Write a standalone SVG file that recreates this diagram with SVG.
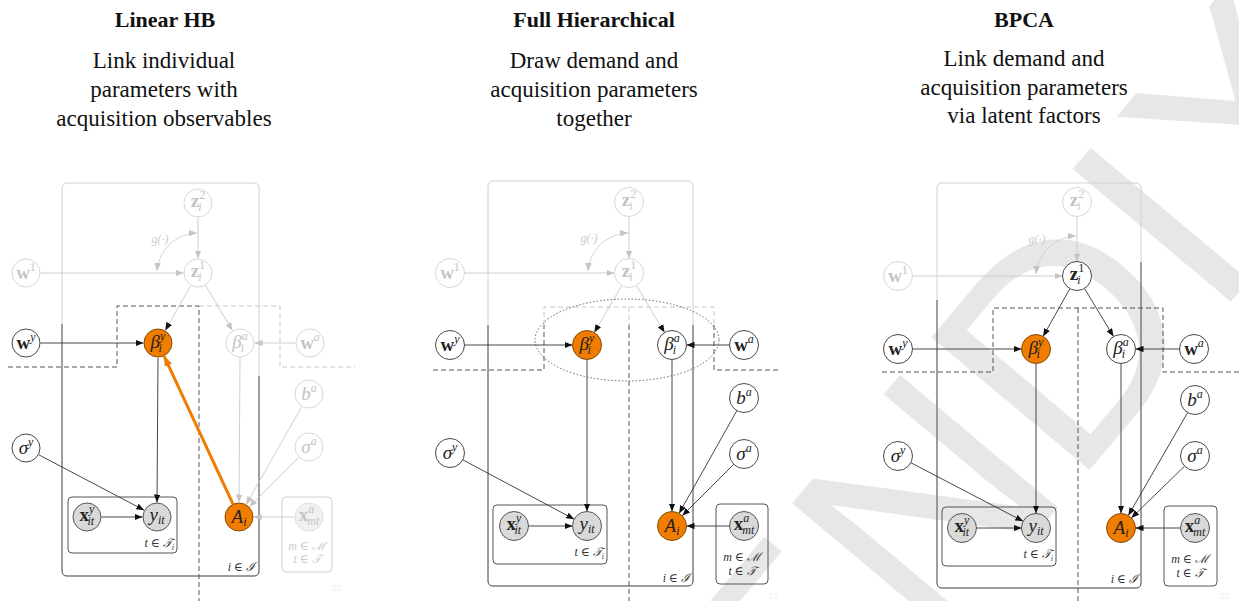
<svg xmlns="http://www.w3.org/2000/svg" width="1239" height="601" viewBox="0 0 1239 601">
<style>
.ttl{font-family:"Liberation Serif",serif;font-weight:bold;font-size:22px;text-anchor:middle;fill:#111}
.sub{font-family:"Liberation Serif",serif;font-size:23px;text-anchor:middle;fill:#111}
.m{font-family:"Liberation Serif","DejaVu Serif",serif;font-size:19px;fill:#222;text-anchor:middle}
.mf{fill:#c4c4c4}
.lab{font-family:"Liberation Serif","DejaVu Serif",serif;font-size:12px;font-style:italic;fill:#333}
.labf{fill:#ccc}
.b{font-weight:bold}
.i{font-style:italic}
.s{font-size:12px}
.n{fill:#fff;stroke:#333;stroke-width:0.9}
.nf{fill:#fff;stroke:#d2d2d2;stroke-width:0.9}
.o{fill:#d9d9d9;stroke:#444;stroke-width:0.9}
.of{fill:#f1f1f1;stroke:#dcdcdc;stroke-width:0.9}
.or{fill:#f07c00;stroke:#7a4000;stroke-width:0.9}
.e{stroke:#333;stroke-width:0.9;fill:none;marker-end:url(#ad)}
.el{stroke:#c8c8c8;stroke-width:0.9;fill:none;marker-end:url(#ad)}
.ef{stroke:#c8c8c8;stroke-width:0.9;fill:none;marker-end:url(#af)}
.arc{stroke:#cfcfcf;stroke-width:0.9;fill:none;marker-start:url(#af);marker-end:url(#af)}
.pl{fill:none;stroke:#555;stroke-width:1}
.plf{fill:none;stroke:#d0d0d0;stroke-width:1}
.d{fill:none;stroke:#555;stroke-width:1;stroke-dasharray:5,3}
.df{fill:none;stroke:#c8c8c8;stroke-width:1;stroke-dasharray:5,3}
.wm{font-family:"Liberation Sans",sans-serif;font-size:300px;fill:#e7e7e7}
.pn{font-family:"Liberation Sans",sans-serif;font-size:9px;fill:#f0f0f0}
</style>
<defs>
<marker id="ad" viewBox="0 0 10 8" refX="10" refY="4" markerWidth="8" markerHeight="6.5" markerUnits="userSpaceOnUse" orient="auto-start-reverse"><path d="M0,0 L10,4 L0,8 z" fill="#111"/></marker>
<marker id="af" viewBox="0 0 10 8" refX="10" refY="4" markerWidth="8" markerHeight="6.5" markerUnits="userSpaceOnUse" orient="auto-start-reverse"><path d="M0,0 L10,4 L0,8 z" fill="#c4c4c4"/></marker>
<marker id="ao" viewBox="0 0 10 8" refX="10" refY="4" markerWidth="10" markerHeight="8" markerUnits="userSpaceOnUse" orient="auto"><path d="M0,0 L10,4 L0,8 z" fill="#f07c00"/></marker>
</defs>
<rect width="1239" height="601" fill="#fff"/>
<text class="wm" x="420" y="1268" transform="rotate(-50 420 1268)">APPENDIX</text>

<!-- titles -->
<g id="titles">
<text class="ttl" x="165" y="27">Linear HB</text>
<text class="sub" x="164" y="68">Link individual</text>
<text class="sub" x="164" y="97">parameters with</text>
<text class="sub" x="164" y="126">acquisition observables</text>
<text class="ttl" x="594" y="27">Full Hierarchical</text>
<text class="sub" x="594" y="68">Draw demand and</text>
<text class="sub" x="594" y="97">acquisition parameters</text>
<text class="sub" x="594" y="126">together</text>
<text class="ttl" x="1024" y="27">BPCA</text>
<text class="sub" x="1024" y="66">Link demand and</text>
<text class="sub" x="1024" y="95">acquisition parameters</text>
<text class="sub" x="1024" y="123">via latent factors</text>
</g>

<!-- plates and dividers -->
<g id="plates">
<rect class="plf" x="62" y="183" width="197" height="393" rx="5"/>
<path class="pl" d="M62,324 V571 Q62,576 67,576 H254 Q259,576 259,571 V376"/>
<rect class="pl" x="68" y="497" width="109" height="56" rx="4"/>
<rect class="plf" x="282" y="497" width="50" height="75" rx="4"/>
<path class="d" d="M8,367 H117 V306 H199 V601"/>
<path class="df" d="M199,306 H280 V367 H355"/>

<rect class="plf" x="488" y="181" width="205" height="405" rx="5"/>
<path class="pl" d="M488,325 V581 Q488,586 493,586 H688 Q693,586 693,581 V325"/>
<rect class="pl" x="493" y="505" width="114" height="59" rx="4"/>
<rect class="pl" x="716" y="504" width="52" height="80" rx="4"/>
<path class="df" d="M544,325 V307 H714 V325"/>
<path class="df" d="M629,307 V325"/>
<path class="d" d="M433,370 H544 V325"/>
<path class="d" d="M714,325 V370 H780"/>
<path class="d" d="M629,325 V601"/>
<ellipse cx="627" cy="340" rx="92" ry="41" fill="none" stroke="#555" stroke-width="0.9" stroke-dasharray="1.5,2"/>

<rect class="plf" x="937" y="183" width="204" height="405" rx="5"/>
<path class="pl" d="M937,300 V583 Q937,588 942,588 H1136 Q1141,588 1141,583 V262"/>
<rect class="pl" x="942" y="507" width="114" height="59" rx="4"/>
<rect class="pl" x="1164" y="506" width="53" height="80" rx="4"/>
<path class="d" d="M882,372 H993 V308 H1163 V372 H1239"/>
<path class="d" d="M1078,308 V601"/>
</g>

<!-- connectors -->
<g id="connectors">
<path class="ef" d="M198,217.5 V258.5"/>
<path class="ef" d="M40.5,273 H183.5"/>
<path class="arc" d="M157,271 A41,41 0 0 1 197,233"/>
<path class="el" d="M190.8,285.6 L165.2,330.4"/>
<path class="ef" d="M205.5,285.4 L232.5,330.6"/>
<path class="e" d="M40.5,343 H143.5"/>
<path class="ef" d="M295.5,343 H254.5"/>
<path class="e" d="M158,357.5 L157,502.5"/>
<path class="ef" d="M240,357.5 L239,502.5"/>
<path class="e" d="M38.8,454.8 L144.2,510.2"/>
<path class="e" d="M101.5,517 H142.5"/>
<path class="ef" d="M301.8,406.6 L246.2,504.4"/>
<path class="ef" d="M298.7,457.3 L249.3,506.7"/>
<path class="ef" d="M294.5,517 H253.5"/>
<path d="M232.9,503.9 L164.1,356.1" stroke="#f07c00" stroke-width="3" fill="none" marker-end="url(#ao)"/>

<path class="ef" d="M629,216.5 V258.5"/>
<path class="ef" d="M464.5,273 H614.5"/>
<path class="arc" d="M588,271 A41,41 0 0 1 628,233"/>
<path class="el" d="M621.7,285.5 L594.3,332.5"/>
<path class="el" d="M636.4,285.4 L664.6,332.6"/>
<path class="e" d="M464.5,345 H572.5"/>
<path class="e" d="M729.5,345 H686.5"/>
<path class="e" d="M587,359.5 V511.5"/>
<path class="e" d="M672,359.5 V511.5"/>
<path class="e" d="M462.8,459.8 L574.2,519.2"/>
<path class="e" d="M528.5,526 H572.5"/>
<path class="e" d="M736.9,410.6 L679.1,513.4"/>
<path class="e" d="M733.7,464.3 L682.3,515.7"/>
<path class="e" d="M729.5,526 H686.5"/>

<path class="ef" d="M1077,216.5 V261.5"/>
<path class="ef" d="M912.5,276 H1062.5"/>
<path class="arc" d="M1036,274 A41,41 0 0 1 1076,236"/>
<path class="e" d="M1069.9,288.6 L1043.1,336.4"/>
<path class="e" d="M1084.5,288.4 L1113.5,336.6"/>
<path class="e" d="M912.5,349 H1021.5"/>
<path class="e" d="M1179.5,349 H1135.5"/>
<path class="e" d="M1036,363.5 V513.5"/>
<path class="e" d="M1121,363.5 V513.5"/>
<path class="e" d="M910.8,462.7 L1023.2,521.3"/>
<path class="e" d="M976.5,528 H1021.5"/>
<path class="e" d="M1187.7,412.5 L1128.3,515.5"/>
<path class="e" d="M1184.6,466.1 L1131.4,517.9"/>
<path class="e" d="M1180.5,528 H1135.5"/>
</g>

<!-- plate labels -->
<g id="platelabels">
<text class="lab" x="174" y="547" text-anchor="end">t ∈ 𝒯<tspan dy="3" font-size="8">i</tspan></text>
<text class="lab" x="255" y="571" text-anchor="end">i ∈ ℐ</text>
<text class="lab labf" x="307" y="550" text-anchor="middle">m ∈ ℳ</text>
<text class="lab labf" x="307" y="563" text-anchor="middle">t ∈ 𝒯</text>
<text class="lab labf" x="160" y="243" text-anchor="middle">g(·)</text>

<text class="lab" x="604" y="556" text-anchor="end">t ∈ 𝒯<tspan dy="3" font-size="8">i</tspan></text>
<text class="lab" x="690" y="582" text-anchor="end">i ∈ ℐ</text>
<text class="lab" x="742" y="561" text-anchor="middle">m ∈ ℳ</text>
<text class="lab" x="742" y="575" text-anchor="middle">t ∈ 𝒯</text>
<text class="lab labf" x="589" y="242" text-anchor="middle">g(·)</text>

<text class="lab" x="1053" y="558" text-anchor="end">t ∈ 𝒯<tspan dy="3" font-size="8">i</tspan></text>
<text class="lab" x="1138" y="583" text-anchor="end">i ∈ ℐ</text>
<text class="lab" x="1190" y="563" text-anchor="middle">m ∈ ℳ</text>
<text class="lab" x="1190" y="577" text-anchor="middle">t ∈ 𝒯</text>
<text class="lab labf" x="1037" y="243" text-anchor="middle">g(·)</text>

<text class="pn" x="332" y="591">21</text>
<text class="pn" x="768" y="599">22</text>
<text class="pn" x="1220" y="599">23</text>
</g>

<!-- LEFT PANEL NODES -->
<g id="L-z2"><circle class="nf" cx="198" cy="203" r="14"/><text class="m mf" x="198" y="207"><tspan class="b">z</tspan><tspan class="s" dy="-8">2</tspan><tspan class="s i" dx="-7" dy="12">i</tspan></text></g>
<g id="L-z1"><circle class="nf" cx="198" cy="273" r="14"/><text class="m mf" x="198" y="277"><tspan class="b">z</tspan><tspan class="s" dy="-8">1</tspan><tspan class="s i" dx="-7" dy="12">i</tspan></text></g>
<g id="L-w1"><circle class="nf" cx="26" cy="273" r="14"/><text class="m mf" x="26" y="279"><tspan class="b">w</tspan><tspan class="s" dy="-8">1</tspan></text></g>
<g id="L-wy"><circle class="n" cx="26" cy="343" r="14"/><text class="m" x="26" y="349"><tspan class="b">w</tspan><tspan class="s i" dy="-8">y</tspan></text></g>
<g id="L-by"><circle class="or" cx="158" cy="343" r="14"/><text class="m" x="158" y="348"><tspan class="i">β</tspan><tspan class="s i" dy="-8">y</tspan><tspan class="s i" dx="-7" dy="12">i</tspan></text></g>
<g id="L-ba"><circle class="nf" cx="240" cy="343" r="14"/><text class="m mf" x="240" y="348"><tspan class="i">β</tspan><tspan class="s i" dy="-8">a</tspan><tspan class="s i" dx="-7" dy="12">i</tspan></text></g>
<g id="L-wa"><circle class="nf" cx="310" cy="343" r="14"/><text class="m mf" x="310" y="349"><tspan class="b">w</tspan><tspan class="s i" dy="-8">a</tspan></text></g>
<g id="L-sy"><circle class="n" cx="26" cy="448" r="14"/><text class="m" x="26" y="454"><tspan class="i">σ</tspan><tspan class="s i" dy="-8">y</tspan></text></g>
<g id="L-xy"><circle class="o" cx="87" cy="517" r="14"/><text class="m" x="87" y="521"><tspan class="b">x</tspan><tspan class="s i" dy="-8">y</tspan><tspan class="s i" dx="-7" dy="12">it</tspan></text></g>
<g id="L-yit"><circle class="o" cx="157" cy="517" r="14"/><text class="m" x="157" y="521"><tspan class="i">y</tspan><tspan class="s i" dy="3">it</tspan></text></g>
<g id="L-Ai"><circle class="or" cx="239" cy="517" r="14"/><text class="m" x="239" y="523"><tspan class="i">A</tspan><tspan class="s i" dy="3">i</tspan></text></g>
<g id="L-bA"><circle class="nf" cx="309" cy="394" r="14"/><text class="m mf" x="309" y="400"><tspan class="i">b</tspan><tspan class="s i" dy="-8">a</tspan></text></g>
<g id="L-sa"><circle class="nf" cx="309" cy="447" r="14"/><text class="m mf" x="309" y="453"><tspan class="i">σ</tspan><tspan class="s i" dy="-8">a</tspan></text></g>
<g id="L-xa"><circle class="of" cx="309" cy="517" r="14"/><text class="m mf" x="309" y="521"><tspan class="b">x</tspan><tspan class="s i" dy="-8">a</tspan><tspan class="s i" dx="-7" dy="12">mt</tspan></text></g>

<!-- MIDDLE PANEL NODES -->
<g id="M-z2"><circle class="nf" cx="629" cy="202" r="14.5"/><text class="m mf" x="629" y="206"><tspan class="b">z</tspan><tspan class="s" dy="-8">2</tspan><tspan class="s i" dx="-7" dy="12">i</tspan></text></g>
<g id="M-z1"><circle class="nf" cx="629" cy="273" r="14.5"/><text class="m mf" x="629" y="277"><tspan class="b">z</tspan><tspan class="s" dy="-8">1</tspan><tspan class="s i" dx="-7" dy="12">i</tspan></text></g>
<g id="M-w1"><circle class="nf" cx="450" cy="273" r="14.5"/><text class="m mf" x="450" y="279"><tspan class="b">w</tspan><tspan class="s" dy="-8">1</tspan></text></g>
<g id="M-wy"><circle class="n" cx="450" cy="345" r="14.5"/><text class="m" x="450" y="351"><tspan class="b">w</tspan><tspan class="s i" dy="-8">y</tspan></text></g>
<g id="M-by"><circle class="or" cx="587" cy="345" r="14.5"/><text class="m" x="587" y="350"><tspan class="i">β</tspan><tspan class="s i" dy="-8">y</tspan><tspan class="s i" dx="-7" dy="12">i</tspan></text></g>
<g id="M-ba"><circle class="n" cx="672" cy="345" r="14.5"/><text class="m" x="672" y="350"><tspan class="i">β</tspan><tspan class="s i" dy="-8">a</tspan><tspan class="s i" dx="-7" dy="12">i</tspan></text></g>
<g id="M-wa"><circle class="n" cx="744" cy="345" r="14.5"/><text class="m" x="744" y="351"><tspan class="b">w</tspan><tspan class="s i" dy="-8">a</tspan></text></g>
<g id="M-sy"><circle class="n" cx="450" cy="453" r="14.5"/><text class="m" x="450" y="459"><tspan class="i">σ</tspan><tspan class="s i" dy="-8">y</tspan></text></g>
<g id="M-xy"><circle class="o" cx="514" cy="526" r="14.5"/><text class="m" x="514" y="530"><tspan class="b">x</tspan><tspan class="s i" dy="-8">y</tspan><tspan class="s i" dx="-7" dy="12">it</tspan></text></g>
<g id="M-yit"><circle class="o" cx="587" cy="526" r="14.5"/><text class="m" x="587" y="530"><tspan class="i">y</tspan><tspan class="s i" dy="3">it</tspan></text></g>
<g id="M-Ai"><circle class="or" cx="672" cy="526" r="14.5"/><text class="m" x="672" y="532"><tspan class="i">A</tspan><tspan class="s i" dy="3">i</tspan></text></g>
<g id="M-bA"><circle class="n" cx="744" cy="398" r="14.5"/><text class="m" x="744" y="404"><tspan class="i">b</tspan><tspan class="s i" dy="-8">a</tspan></text></g>
<g id="M-sa"><circle class="n" cx="744" cy="454" r="14.5"/><text class="m" x="744" y="460"><tspan class="i">σ</tspan><tspan class="s i" dy="-8">a</tspan></text></g>
<g id="M-xa"><circle class="o" cx="744" cy="526" r="14.5"/><text class="m" x="744" y="530"><tspan class="b">x</tspan><tspan class="s i" dy="-8">a</tspan><tspan class="s i" dx="-7" dy="12">mt</tspan></text></g>

<!-- RIGHT PANEL NODES -->
<g id="R-z2"><circle class="nf" cx="1077" cy="202" r="14.5"/><text class="m mf" x="1077" y="206"><tspan class="b">z</tspan><tspan class="s" dy="-8">2</tspan><tspan class="s i" dx="-7" dy="12">i</tspan></text></g>
<g id="R-z1"><circle class="n" cx="1077" cy="276" r="14.5"/><text class="m" x="1077" y="280"><tspan class="b">z</tspan><tspan class="s" dy="-8">1</tspan><tspan class="s i" dx="-7" dy="12">i</tspan></text></g>
<g id="R-w1"><circle class="nf" cx="898" cy="276" r="14.5"/><text class="m mf" x="898" y="282"><tspan class="b">w</tspan><tspan class="s" dy="-8">1</tspan></text></g>
<g id="R-wy"><circle class="n" cx="898" cy="349" r="14.5"/><text class="m" x="898" y="355"><tspan class="b">w</tspan><tspan class="s i" dy="-8">y</tspan></text></g>
<g id="R-by"><circle class="or" cx="1036" cy="349" r="14.5"/><text class="m" x="1036" y="354"><tspan class="i">β</tspan><tspan class="s i" dy="-8">y</tspan><tspan class="s i" dx="-7" dy="12">i</tspan></text></g>
<g id="R-ba"><circle class="n" cx="1121" cy="349" r="14.5"/><text class="m" x="1121" y="354"><tspan class="i">β</tspan><tspan class="s i" dy="-8">a</tspan><tspan class="s i" dx="-7" dy="12">i</tspan></text></g>
<g id="R-wa"><circle class="n" cx="1194" cy="349" r="14.5"/><text class="m" x="1194" y="355"><tspan class="b">w</tspan><tspan class="s i" dy="-8">a</tspan></text></g>
<g id="R-sy"><circle class="n" cx="898" cy="456" r="14.5"/><text class="m" x="898" y="462"><tspan class="i">σ</tspan><tspan class="s i" dy="-8">y</tspan></text></g>
<g id="R-xy"><circle class="o" cx="962" cy="528" r="14.5"/><text class="m" x="962" y="532"><tspan class="b">x</tspan><tspan class="s i" dy="-8">y</tspan><tspan class="s i" dx="-7" dy="12">it</tspan></text></g>
<g id="R-yit"><circle class="o" cx="1036" cy="528" r="14.5"/><text class="m" x="1036" y="532"><tspan class="i">y</tspan><tspan class="s i" dy="3">it</tspan></text></g>
<g id="R-Ai"><circle class="or" cx="1121" cy="528" r="14.5"/><text class="m" x="1121" y="534"><tspan class="i">A</tspan><tspan class="s i" dy="3">i</tspan></text></g>
<g id="R-bA"><circle class="n" cx="1195" cy="400" r="14.5"/><text class="m" x="1195" y="406"><tspan class="i">b</tspan><tspan class="s i" dy="-8">a</tspan></text></g>
<g id="R-sa"><circle class="n" cx="1195" cy="456" r="14.5"/><text class="m" x="1195" y="462"><tspan class="i">σ</tspan><tspan class="s i" dy="-8">a</tspan></text></g>
<g id="R-xa"><circle class="o" cx="1195" cy="528" r="14.5"/><text class="m" x="1195" y="532"><tspan class="b">x</tspan><tspan class="s i" dy="-8">a</tspan><tspan class="s i" dx="-7" dy="12">mt</tspan></text></g>
</svg>
